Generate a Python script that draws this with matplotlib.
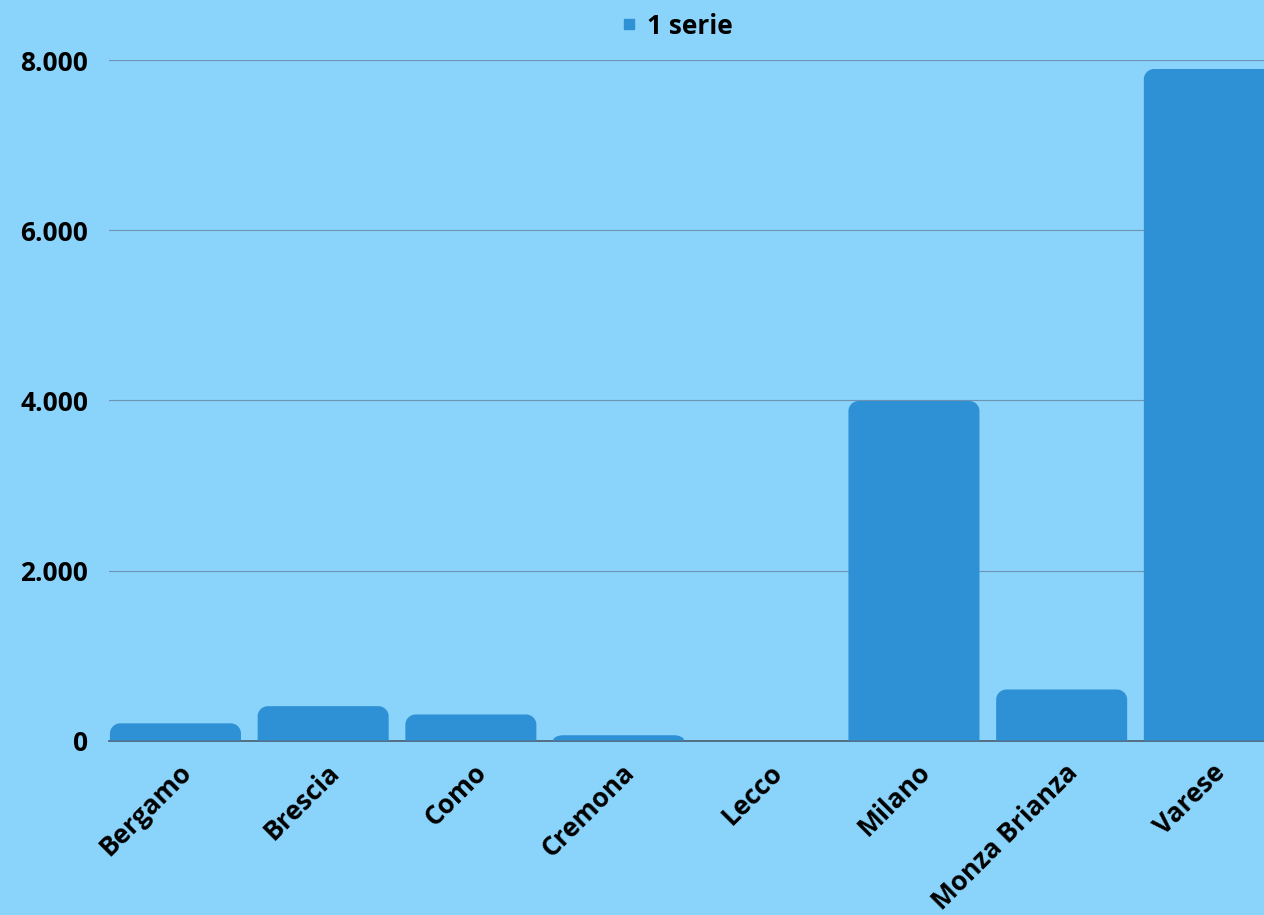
import numpy as np
import matplotlib
matplotlib.use("Agg")
import matplotlib.pyplot as plt
from matplotlib.path import Path
from matplotlib.patches import PathPatch
from matplotlib.lines import Line2D
from matplotlib.transforms import ScaledTranslation

# ---------------- dati ----------------
province = ["Bergamo", "Brescia", "Como", "Cremona", "Lecco",
            "Milano", "Monza Brianza", "Varese"]
valori = [202, 404, 306, 62, 0, 3995, 600, 7900]
serie_nome = "1 serie"
yticks = [0, 2000, 4000, 6000, 8000]
ytick_labels = ["0", "2.000", "4.000", "6.000", "8.000"]

BG = "#8AD3FA"
BAR = "#2E91D6"
GRID = "#6F93B2"
AXIS = "#4A5D70"

plt.rcParams["font.family"] = ["Open Sans", "DejaVu Sans"]
plt.rcParams["font.weight"] = "bold"

fig = plt.figure(figsize=(12.64, 9.15), dpi=100, facecolor=BG)
ax = fig.add_axes([109 / 1264, 174.5 / 915, 1 - 109 / 1264, 680 / 915])
ax.set_facecolor(BG)

x = np.arange(len(province))
bars = ax.bar(x, valori, width=0.887, color=BAR, zorder=2)

ax.set_xlim(-0.45, 7.37)
ax.set_ylim(0, 8000)


def round_top(rect, rx, ry):
    # barra con angoli superiori arrotondati (in coordinate dati)
    x0, w, h = rect.get_x(), rect.get_width(), rect.get_height()
    if h <= 0:
        return None
    ry = min(ry, h)
    x1 = x0 + w
    k = 0.5523
    verts = [(x0, 0), (x0, h - ry),
             (x0, h - ry + k * ry), (x0 + rx - k * rx, h), (x0 + rx, h),
             (x1 - rx, h),
             (x1 - rx + k * rx, h), (x1, h - ry + k * ry), (x1, h - ry),
             (x1, 0), (x0, 0)]
    codes = [Path.MOVETO, Path.LINETO,
             Path.CURVE4, Path.CURVE4, Path.CURVE4,
             Path.LINETO,
             Path.CURVE4, Path.CURVE4, Path.CURVE4,
             Path.LINETO, Path.CLOSEPOLY]
    return Path(verts, codes)


for r in bars:
    p = round_top(r, 0.07, 120)
    r.set_visible(False)
    if p is not None:
        ax.add_patch(PathPatch(p, facecolor=BAR, edgecolor="none", zorder=2))

# griglia e assi
ax.set_yticks(yticks)
ax.set_yticklabels(ytick_labels)
ax.yaxis.grid(True, color=GRID, linewidth=0.8, zorder=0)
ax.set_axisbelow(True)
for s in ["left", "right", "top"]:
    ax.spines[s].set_visible(False)
ax.spines["bottom"].set_color(AXIS)
ax.spines["bottom"].set_linewidth(1.2)
ax.spines["bottom"].set_zorder(1)
ax.tick_params(axis="y", length=0, pad=15, labelsize=19)
ax.tick_params(axis="x", length=0, pad=20, labelsize=19)

ax.set_xticks(x)
ax.set_xticklabels(province, rotation=45, ha="right", va="center",
                   rotation_mode="anchor")
off = ScaledTranslation(12 / 100, 0, fig.dpi_scale_trans)
for lab in ax.get_xticklabels():
    lab.set_transform(lab.get_transform() + off)

# legenda
handle = Line2D([], [], marker="s", linestyle="none", markersize=7,
                markerfacecolor=BAR, markeredgecolor=BAR)
fig.legend([handle], [serie_nome], loc="center",
           bbox_to_anchor=(677 / 1264, 1 - 26 / 915), frameon=False,
           fontsize=19, handlelength=0.6, handletextpad=0.4,
           borderpad=0, borderaxespad=0)

fig.savefig("out.png", dpi=100, facecolor=BG)
